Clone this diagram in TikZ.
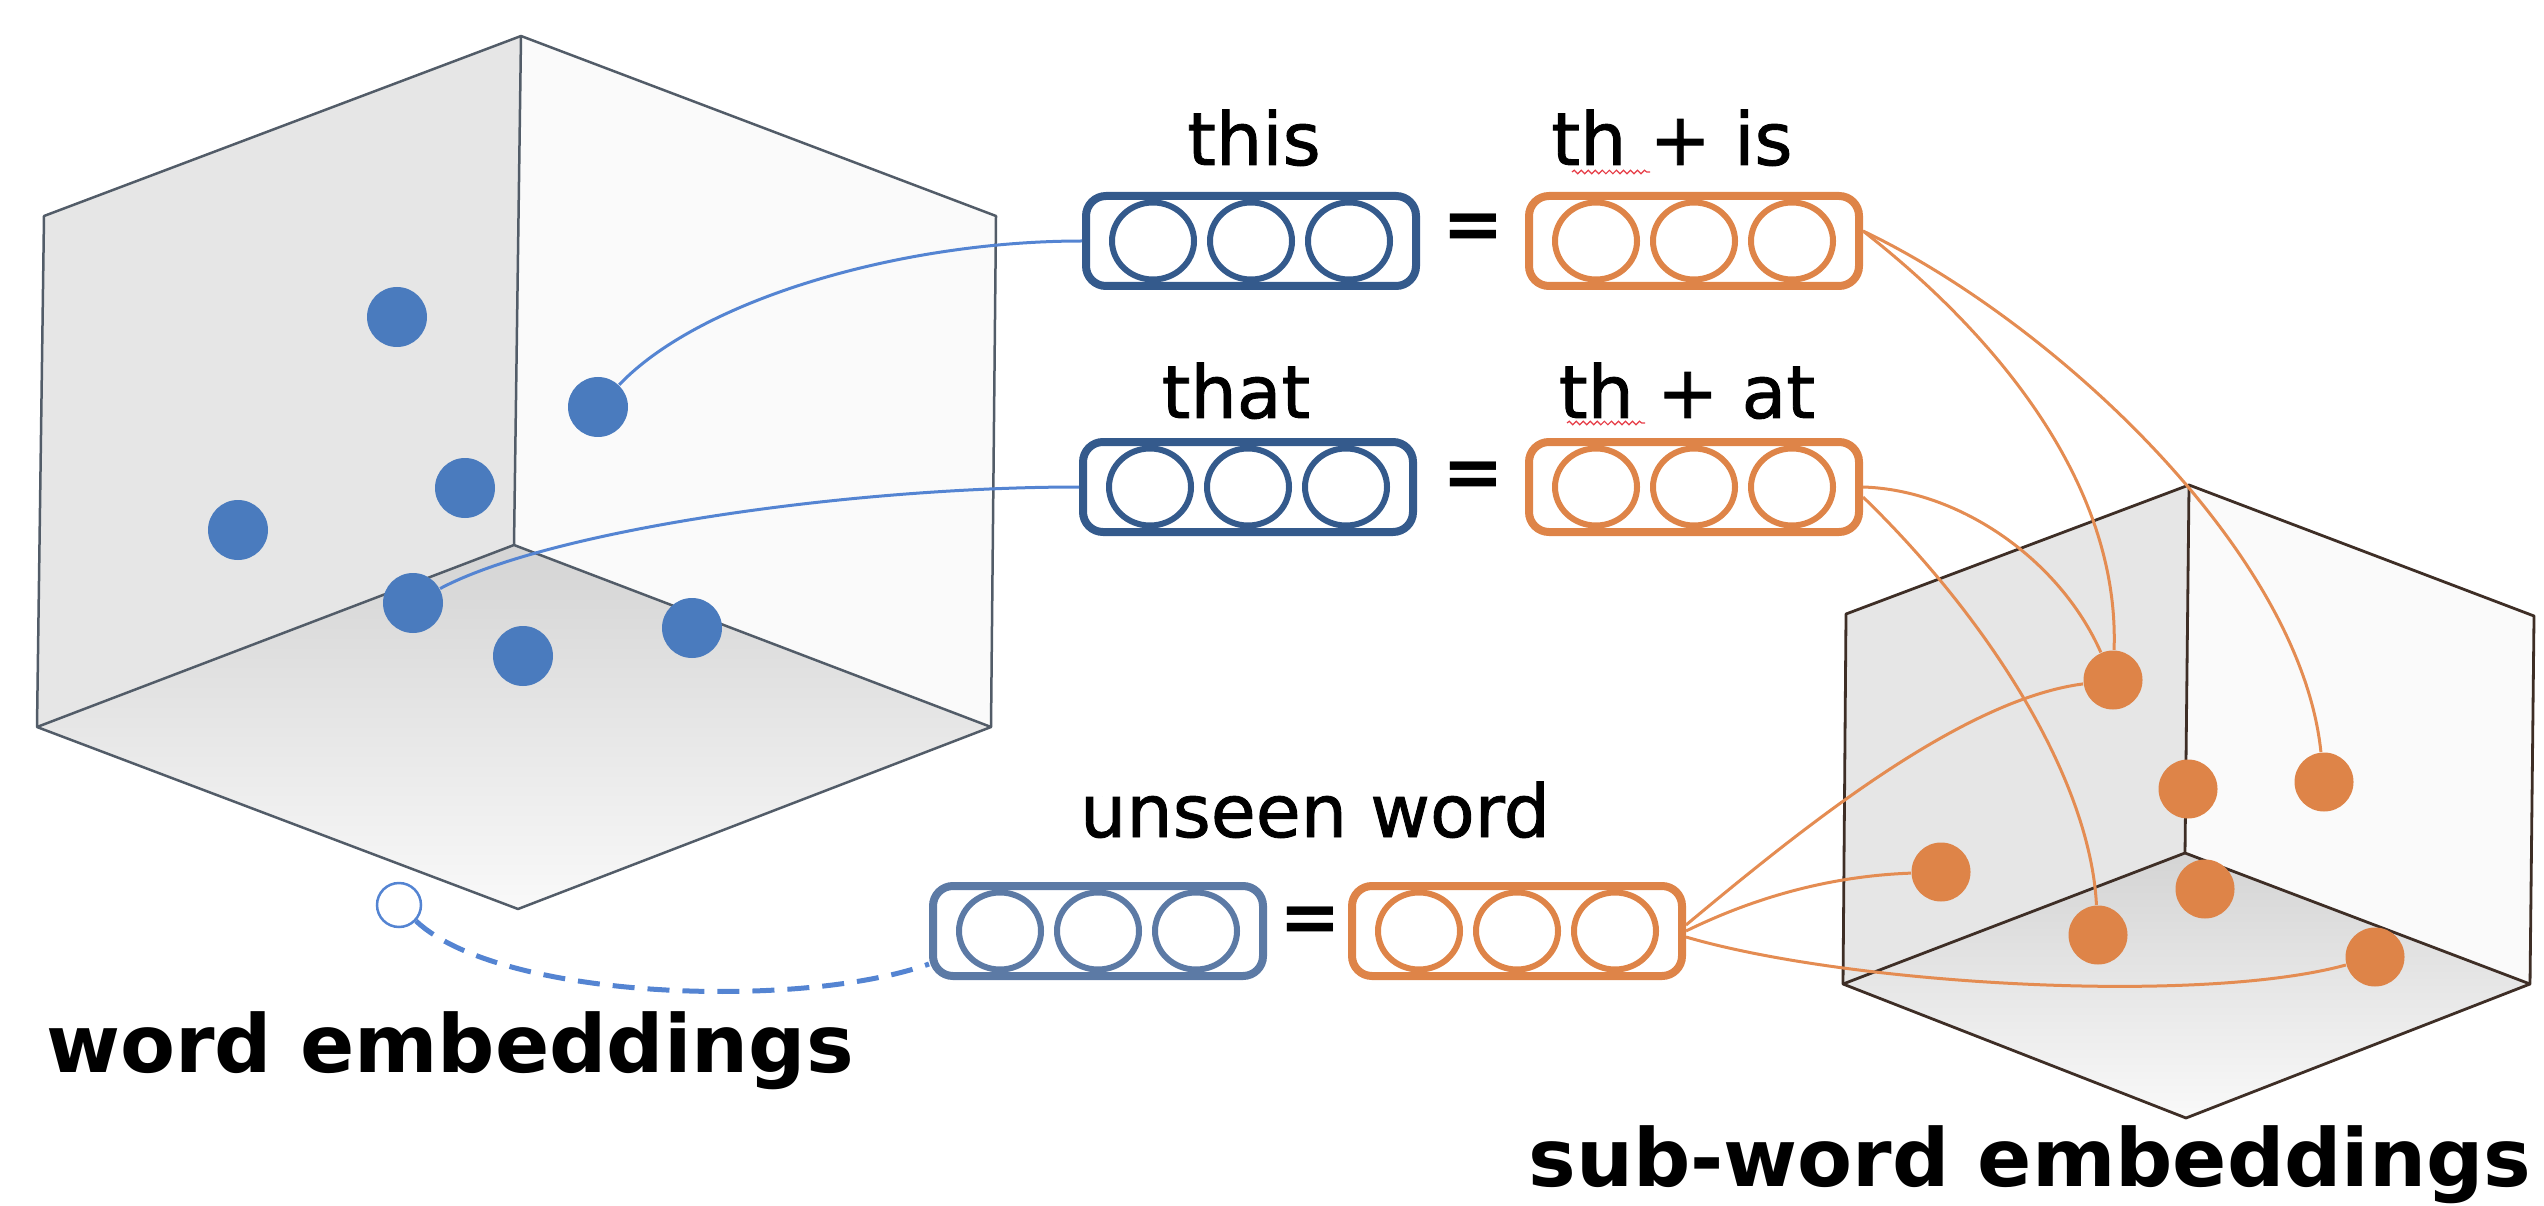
\documentclass[tikz,border=0pt]{standalone}
\usepackage{fontspec}
\setmainfont{DejaVu Sans}
\newfontfamily\medfont{DejaVu Sans}[FakeBold=1.2]
\usetikzlibrary{calc,decorations.pathmorphing}
\definecolor{edgeL}{RGB}{82,92,104}
\definecolor{edgeR}{RGB}{62,46,38}
\definecolor{faceA}{RGB}{230,230,230}
\definecolor{faceB}{RGB}{250,250,250}
\definecolor{floorA}{RGB}{212,212,212}
\definecolor{floorB}{RGB}{249,249,249}
\definecolor{dotblue}{RGB}{74,123,190}
\definecolor{lineblue}{RGB}{84,132,210}
\definecolor{boxblue}{RGB}{52,90,140}
\definecolor{boxblueL}{RGB}{92,122,165}
\definecolor{orangeC}{RGB}{222,132,72}
\definecolor{lineorange}{RGB}{228,140,82}
\definecolor{squig}{RGB}{230,60,70}
\begin{document}
\begin{tikzpicture}[x=0.1mm,y=-0.1mm,
  cubeL/.style={draw=edgeL, line width=0.25mm, line join=round},
  cubeR/.style={draw=edgeR, line width=0.28mm, line join=round},
  bdot/.style={circle, fill=dotblue, inner sep=0pt, minimum size=6mm},
  odot/.style={circle, fill=orangeC, inner sep=0pt, minimum size=5.9mm},
  vecbox/.style={rectangle, rounded corners=2mm, minimum width=33mm, minimum height=9mm, line width=0.8mm, inner sep=0pt},
  bvec/.style={vecbox, draw=boxblue},
  bvecL/.style={vecbox, draw=boxblueL},
  ovec/.style={vecbox, draw=orangeC},
  cell/.style={line width=0.6mm},
  lbl/.style={font=\fontsize{20.8pt}{24pt}\medfont, inner sep=0pt, anchor=base},
  big/.style={font=\fontsize{22.8pt}{26pt}\selectfont\bfseries, inner sep=0pt, anchor=base},
  eqs/.style={font=\fontsize{21pt}{24pt}\selectfont\bfseries, inner sep=0pt},
  bline/.style={draw=lineblue, line width=0.3mm},
  oline/.style={draw=lineorange, line width=0.3mm},
  dashc/.style={draw=lineblue, line width=0.5mm, dash pattern=on 2.2mm off 1.3mm},
  squiggle/.style={draw=squig, line width=0.12mm, decorate, decoration={snake, amplitude=0.5pt, segment length=2pt}}
]
\useasboundingbox (0,0) rectangle (2544,1206);

% ---------- left cube ----------
\coordinate (LT) at (521,36);
\coordinate (LTL) at (44,216);
\coordinate (LTR) at (996,216);
\coordinate (LC) at (514,545);
\coordinate (LBL) at (37,727);
\coordinate (LBR) at (991,727);
\coordinate (LB) at (518,909);
\fill[faceA] (LTL) -- (LT) -- (LC) -- (LBL) -- cycle;
\fill[faceB] (LT) -- (LTR) -- (LBR) -- (LC) -- cycle;
\shade[top color=floorA, bottom color=floorB] (LBL) -- (LC) -- (LBR) -- (LB) -- cycle;
\draw[cubeL] (LT) -- (LTR) -- (LBR) -- (LB) -- (LBL) -- (LTL) -- cycle;
\draw[cubeL] (LT) -- (LC) (LBL) -- (LC) -- (LBR);

% ---------- right cube ----------
\coordinate (RT) at (2189,485);
\coordinate (RTL) at (1846,614);
\coordinate (RTR) at (2534,616);
\coordinate (RC) at (2185,853);
\coordinate (RBL) at (1843,984);
\coordinate (RBR) at (2530,984);
\coordinate (RB) at (2186,1118);
\fill[faceA] (RTL) -- (RT) -- (RC) -- (RBL) -- cycle;
\fill[faceB] (RT) -- (RTR) -- (RBR) -- (RC) -- cycle;
\shade[top color=floorA, bottom color=floorB] (RBL) -- (RC) -- (RBR) -- (RB) -- cycle;
\draw[cubeR] (RT) -- (RTR) -- (RBR) -- (RB) -- (RBL) -- (RTL) -- cycle;
\draw[cubeR] (RT) -- (RC) (RBL) -- (RC) -- (RBR);

% ---------- vector boxes ----------
\node[bvec] (bthis) at (1251,241) {};
\node[ovec] (othis) at (1694,241) {};
\node[bvec] (bthat) at (1248,487) {};
\node[ovec] (othat) at (1694,487) {};
\node[bvecL] (bun) at (1098,931) {};
\node[ovec] (oun) at (1517,931) {};
\foreach \n/\c in {bthis/boxblue, bthat/boxblue, bun/boxblueL, othis/orangeC, othat/orangeC, oun/orangeC}{
  \foreach \dx in {-98,0,98}{
    \draw[cell, draw=\c] ($(\n.center)+(\dx,0)$) ellipse [x radius=41, y radius=38.5];
  }
}

% ---------- dots ----------
\node[bdot] (b1) at (397,317) {};
\node[bdot] (b2) at (598,407) {};
\node[bdot] (b3) at (465,488) {};
\node[bdot] (b4) at (238,530) {};
\node[bdot] (b5) at (413,603) {};
\node[bdot] (b6) at (523,656) {};
\node[bdot] (b7) at (692,628) {};
\node[circle, draw=lineblue, line width=0.25mm, fill=white, inner sep=0pt, minimum size=4.4mm] (uw) at (399,905) {};

\node[odot] (o1) at (2113,680) {};
\node[odot] (o2) at (2188,789) {};
\node[odot] (o3) at (2324,782) {};
\node[odot] (o4) at (1941,872) {};
\node[odot] (o5) at (2205,889) {};
\node[odot] (o6) at (2098,935) {};
\node[odot] (o7) at (2375,957) {};

% ---------- connectors ----------
\draw[bline] (b2) .. controls (700,300) and (900,241) .. (bthis.west);
\draw[bline] (b5) .. controls (550,530) and (850,487) .. (bthat.west);
\draw[dashc] (uw) .. controls (500,1000) and (800,1010) .. ($(bun.west)+(0,33)$);

\draw[oline] ($(othis.east)+(0,-10)$) .. controls (1990,330) and (2120,480) .. (o1);
\draw[oline] ($(othis.east)+(0,-10)$) .. controls (2050,320) and (2300,550) .. (o3);
\draw[oline] (othat.east) .. controls (1960,490) and (2060,560) .. (o1);
\draw[oline] ($(othat.east)+(0,10)$) .. controls (1990,620) and (2090,780) .. (o6);
\draw[oline] ($(oun.east)+(0,-6)$) .. controls (1800,830) and (1960,700) .. (o1);
\draw[oline] (oun.east) .. controls (1780,885) and (1860,875) .. (o4);
\draw[oline] ($(oun.east)+(0,6)$) .. controls (1850,985) and (2200,1005) .. (o7);

% ---------- labels ----------
\node[lbl] (tthis) at (1254,165) {this};
\node[lbl] (tthis2) at (1672,165) {th + is};
\node[lbl] (tthat) at (1236,418) {that};
\node[lbl] (tthat2) at (1687,418) {th + at};
\node[lbl] (tun) at (1315,837) {unseen word};
\node[eqs] (eq1) at (1473,232) {=};
\node[eqs] (eq2) at (1473,480) {=};
\node[eqs] (eq3) at (1310,925) {=};
\draw[squiggle] (1572,172) -- (1650,172);
\draw[squiggle] (1567,423) -- (1645,423);
\node[big] (lw) at (450,1072) {word embeddings};
\node[big] (ls) at (2030,1186) {sub-word embeddings};
\end{tikzpicture}
\end{document}
